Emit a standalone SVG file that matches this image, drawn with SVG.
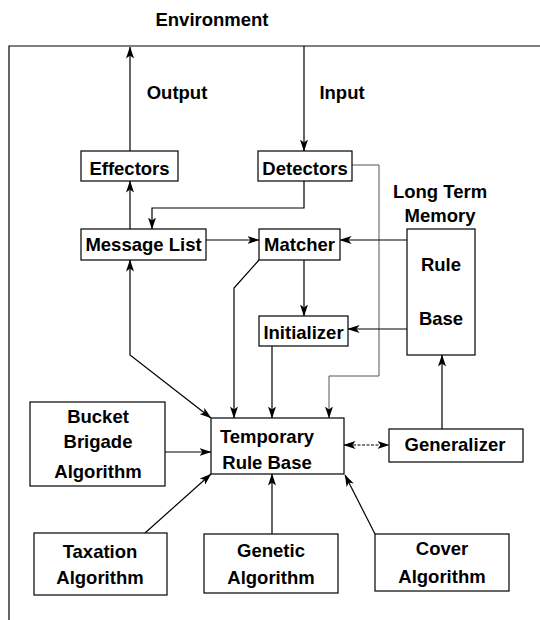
<svg xmlns="http://www.w3.org/2000/svg" width="540" height="620" viewBox="0 0 540 620">
<defs>
<marker id="ah" viewBox="0 0 12 8" refX="11.5" refY="4" markerWidth="12" markerHeight="8" markerUnits="userSpaceOnUse" orient="auto-start-reverse">
<path d="M0,0 L12,4 L0,8 L3,4 Z" fill="#000"/>
</marker>
</defs>
<style>
text{font-family:"Liberation Sans",Arial,sans-serif;font-weight:bold;font-size:18.5px;fill:#000;text-anchor:middle}
.box{fill:#fff;stroke:#000;stroke-width:1.2}
.c{fill:none;stroke:#000;stroke-width:1.2}
.g{fill:none;stroke:#555;stroke-width:1}
.a{marker-end:url(#ah)}
.b{marker-start:url(#ah);marker-end:url(#ah)}
</style>
<rect width="540" height="620" fill="#fff"/>
<g id="frame">
<path class="c" d="M9,620 V46 H540"/>
<text x="212" y="26">Environment</text>
<text x="177" y="99">Output</text>
<text x="342" y="99">Input</text>
<text x="440" y="198">Long Term</text>
<text x="440" y="222">Memory</text>
</g>
<g id="connectors">
<path class="c a" d="M130,151 V47"/>
<path class="c a" d="M130,229 V181"/>
<path class="c a" d="M304,46 V151"/>
<path class="c a" d="M304,181 V208 H152 V229"/>
<path class="g a" d="M352,165 H379 V376 H329 V418"/>
<path class="c a" d="M206,240 H259"/>
<path class="c a" d="M407,240 H340"/>
<path class="c a" d="M304,260 V316"/>
<path class="c a" d="M407,329 H348"/>
<path class="c a" d="M259,260 L234,288 V418"/>
<path class="c a" d="M272,346 V418"/>
<path class="c b" d="M130,260 V355 L211,418"/>
<path class="c a" d="M165,452 H211"/>
<path class="c b" d="M344,445 H389" stroke-dasharray="3 1.5"/>
<path class="c a" d="M442,429 V355"/>
<path class="c a" d="M145,533 L211,474"/>
<path class="c a" d="M272,534 V474"/>
<path class="c a" d="M375,534 L345,475"/>
</g>
<g id="effectors"><rect class="box" x="81" y="151" width="97" height="30"/><text x="129.5" y="175">Effectors</text></g>
<g id="detectors"><rect class="box" x="258" y="151" width="94" height="30"/><text x="305" y="175">Detectors</text></g>
<g id="message-list"><rect class="box" x="81" y="229" width="125" height="31"/><text x="143.5" y="251">Message List</text></g>
<g id="matcher"><rect class="box" x="259" y="229" width="81" height="31"/><text x="299.5" y="251">Matcher</text></g>
<g id="rule-base"><rect class="box" x="407" y="229" width="68" height="126"/><text x="441" y="271">Rule</text><text x="441" y="325">Base</text></g>
<g id="initializer"><rect class="box" x="259" y="316" width="89" height="30"/><text x="303.5" y="339">Initializer</text></g>
<g id="bucket-brigade"><rect class="box" x="30" y="402" width="135" height="84"/><text x="98" y="423">Bucket</text><text x="98" y="448">Brigade</text><text x="98" y="478">Algorithm</text></g>
<g id="temporary-rule-base"><rect class="box" x="211" y="418" width="133" height="56"/><text x="267" y="443">Temporary</text><text x="267" y="469">Rule Base</text></g>
<g id="generalizer"><rect class="box" x="389" y="429" width="134" height="33"/><text x="455" y="451">Generalizer</text></g>
<g id="taxation"><rect class="box" x="34" y="533" width="133" height="62"/><text x="100" y="558">Taxation</text><text x="100" y="584">Algorithm</text></g>
<g id="genetic"><rect class="box" x="204" y="534" width="134" height="59"/><text x="271" y="557">Genetic</text><text x="271" y="584">Algorithm</text></g>
<g id="cover"><rect class="box" x="375" y="534" width="134" height="57"/><text x="442" y="555">Cover</text><text x="442" y="583">Algorithm</text></g>
</svg>
